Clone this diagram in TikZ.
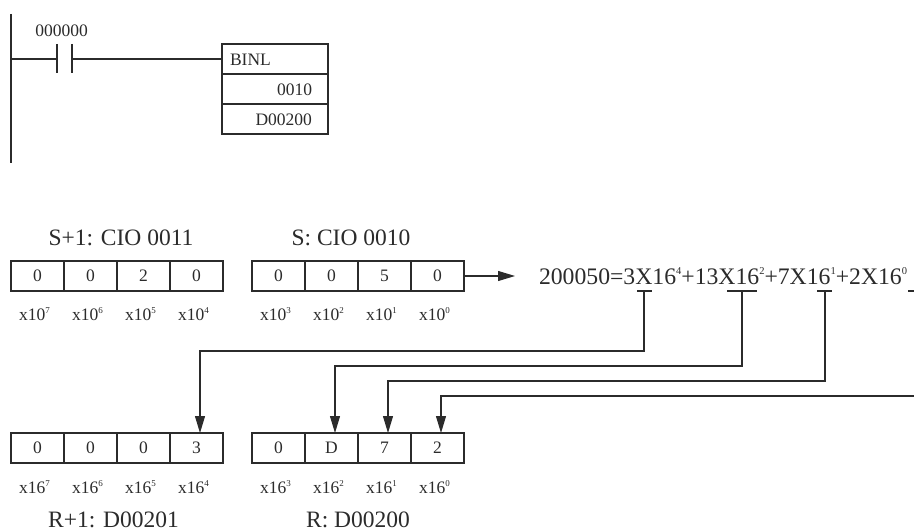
\documentclass[tikz,border=0pt]{standalone}
\usepackage{fontspec}
\setmainfont{Liberation Serif}
\usetikzlibrary{arrows.meta}
\definecolor{ink}{HTML}{2B2B2B}
\newcommand{\fs}{\fontsize{17.5}{20}\selectfont}
\newcommand{\fl}{\fontsize{23.5}{26}\selectfont}
\newcommand{\ex}[1]{\raisebox{7pt}{\fontsize{9}{9}\selectfont #1}}
\newcommand{\exb}[1]{\raisebox{10pt}{\fontsize{10.5}{10}\selectfont #1}}
\tikzset{
  wire/.style={draw=ink,line width=1.05pt},
  link/.style={wire,-{Stealth[length=17pt,width=10pt,inset=0pt]}},
  cell/.style={draw=ink,line width=1.05pt,minimum width=53pt,minimum height=30pt,inner sep=0pt,outer sep=0pt,font=\fs,text=ink},
  ins/.style={draw=ink,line width=1.05pt,minimum width=106pt,minimum height=30pt,inner sep=0pt,outer sep=0pt,font=\fs,text=ink},
  txt/.style={inner sep=0pt,outer sep=0pt,text=ink},
  small/.style={txt,font=\fs},
  large/.style={txt,font=\fl},
}
\begin{document}
\begin{tikzpicture}[x=1pt,y=-1pt]
\useasboundingbox (0,0) rectangle (914,532);
% ladder
\coordinate (railT) at (11,14);
\coordinate (railB) at (11,163);
\coordinate (railM) at (11,59);
\draw[wire] (railT) -- (railB);
\coordinate (c1t) at (57,44); \coordinate (c1b) at (57,73); \coordinate (c1m) at (57,59);
\coordinate (c2t) at (72,44); \coordinate (c2b) at (72,73); \coordinate (c2m) at (72,59);
\draw[wire] (c1t) -- (c1b);
\draw[wire] (c2t) -- (c2b);
\node[small,anchor=base] (contact) at (61.5,37) {000000};
\node[ins] (binl) at (275,59) {};
\node[ins] (src) at (275,89) {};
\node[ins] (dst) at (275,119) {};
\node[small,anchor=base west] (binlt) at (230,66) {BINL};
\node[small,anchor=base east] (srct) at (312,96) {0010};
\node[small,anchor=base east] (dstt) at (312,126) {D00200};
\draw[wire] (railM) -- (c1m);
\draw[wire] (c2m) -- (binl.west);
% upper words
\node[large,anchor=base] (s1lab) at (121,246) {S+1: CIO 0011};
\node[large,anchor=base] (s0lab) at (351,246) {S: CIO 0010};
\foreach \n/\x/\d/\p in {a/37.5/0/7,b/90.5/0/6,c/143.5/2/5,d/196.5/0/4,e/278.5/0/3,f/331.5/0/2,g/384.5/5/1,h/437.5/0/0}{
  \node[cell] (u\n) at (\x,276) {\d};
  \node[small,anchor=base] (ul\n) at (\x-3,320) {x10\ex{\p}};
}
% lower words
\foreach \n/\x/\d/\p in {a/37.5/0/7,b/90.5/0/6,c/143.5/0/5,d/196.5/3/4,e/278.5/0/3,f/331.5/D/2,g/384.5/7/1,h/437.5/2/0}{
  \node[cell] (l\n) at (\x,448) {\d};
  \node[small,anchor=base] (ll\n) at (\x-3,493) {x16\ex{\p}};
}
\node[large,anchor=base] (r1lab) at (113.5,527) {R+1: D00201};
\node[large,anchor=base] (r0lab) at (358,527) {R: D00200};
% formula
\node[txt,font=\fontsize{23.7}{26}\selectfont,anchor=base west] (formula) at (539,284) {200050=3X16\exb{4}+13X16\exb{2}+7X16\exb{1}+2X16\exb{0}};
\coordinate (arrowEnd) at (515,276);
\draw[link] (uh.east) -- (arrowEnd);
% brackets
\coordinate (b1l) at (637,291); \coordinate (b1r) at (652,291); \coordinate (b1m) at (644,291);
\coordinate (b2l) at (727,291); \coordinate (b2r) at (757,291); \coordinate (b2m) at (742,291);
\coordinate (b3l) at (817,291); \coordinate (b3r) at (832,291); \coordinate (b3m) at (825,291);
\coordinate (b4l) at (908,291); \coordinate (b4r) at (914,291);
\draw[wire] (b1l) -- (b1r);
\draw[wire] (b2l) -- (b2r);
\draw[wire] (b3l) -- (b3r);
\draw[wire] (b4l) -- (b4r);
\coordinate (rightEdge) at (914,396);
\draw[link] (b1m) |- (200,351) -- (ld.north -| 200,0);
\draw[link] (b2m) |- (335,366) -- (lf.north -| 335,0);
\draw[link] (b3m) |- (388,381) -- (lg.north -| 388,0);
\draw[link] (rightEdge) -- (441,396) -- (lh.north -| 441,0);
\end{tikzpicture}
\end{document}
